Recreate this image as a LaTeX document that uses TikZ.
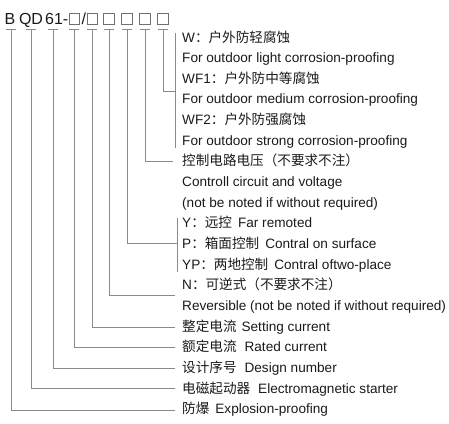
\documentclass[tikz,border=0pt]{standalone}
\usepackage{fontspec}
\setmainfont{Liberation Sans}
\newfontfamily\cjk{Noto Sans CJK SC}
\definecolor{txtc}{HTML}{1A1A1A}
\definecolor{linec}{HTML}{8A8A8A}
\definecolor{boxc}{HTML}{707070}
\begin{document}
\begin{tikzpicture}[x=1pt,y=-1pt,
  txt/.style={anchor=base west, inner sep=0pt, font=\fontsize{13.6}{16}\selectfont, text=txtc},
  head/.style={anchor=base, inner sep=0pt, font=\fontsize{16}{18}\selectfont, text=txtc},
  codebox/.style={draw=boxc, line width=0.7pt, minimum width=10.5pt, minimum height=11.5pt, inner sep=0pt},
  ln/.style={draw=linec, line width=0.8pt},
  tick/.style={draw=linec, line width=0.8pt}]
\useasboundingbox (0,0) rectangle (449,423);

% ---- header code
\node[head] (hB) at (10,24.5) {B};
\node[head] (hQD) at (31,24.5) {QD};
\node[head, anchor=base west] (h61) at (45,24.5) {61-};
\node[codebox] (b1) at (74.5,18.8) {};
\node[head] (hsl) at (83.8,24.5) {/};
\node[codebox] (b2) at (92.3,18.8) {};
\node[codebox] (b3) at (108.8,18.8) {};
\node[codebox] (b4) at (127,18.8) {};
\node[codebox] (b5) at (145,18.8) {};
\node[codebox] (b6) at (163,18.8) {};

% ---- tick coordinates
\foreach \n/\x in {cB/11,cQ/31,c6/53,c1/74,c2/92,c3/109,c4/127,c5/145,c7/163}{
  \coordinate (\n) at (\x,29.5);
  \draw[tick] (\x-5,29.5) -- (\x+5,29.5);
}

% ---- text lines
\node[txt] (t0)  at (182,42)     {W{\cjk ：户外防轻腐蚀}};
\node[txt] (t1)  at (182,62.65)  {For outdoor light corrosion-proofing};
\node[txt] (t2)  at (182,83.3)   {WF1{\cjk ：户外防中等腐蚀}};
\node[txt] (t3)  at (182,103.95) {For outdoor medium corrosion-proofing};
\node[txt] (t4)  at (182,124.6)  {WF2{\cjk ：户外防强腐蚀}};
\node[txt] (t5)  at (182,145.25) {For outdoor strong corrosion-proofing};
\node[txt] (t6)  at (182,165.9)  {{\cjk 控制电路电压（不要求不注）}};
\node[txt] (t7)  at (182,186.55) {Controll circuit and voltage};
\node[txt] (t8)  at (182,207.2)  {(not be noted if without required)};
\node[txt] (t9)  at (182,227.85) {Y{\cjk ：远控}\hspace{6pt}Far remoted};
\node[txt] (t10) at (182,248.5)  {P{\cjk ：箱面控制}\hspace{6pt}Contral on surface};
\node[txt] (t11) at (182,269.15) {YP{\cjk ：两地控制}\hspace{6pt}Contral oftwo-place};
\node[txt] (t12) at (182,289.8)  {N{\cjk ：可逆式（不要求不注）}};
\node[txt] (t13) at (182,310.45) {Reversible (not be noted if without required)};
\node[txt] (t14) at (182,331.1)  {{\cjk 整定电流}\hspace{5pt}Setting current};
\node[txt] (t15) at (182,351.75) {{\cjk 额定电流}\hspace{8pt}Rated current};
\node[txt] (t16) at (182,372.4)  {{\cjk 设计序号}\hspace{8pt}Design number};
\node[txt] (t17) at (182,393.05) {{\cjk 电磁起动器}\hspace{8pt}Electromagnetic starter};
\node[txt] (t18) at (182,413.7)  {{\cjk 防爆}\hspace{6pt}Explosion-proofing};

% ---- brackets
\coordinate (brWt) at (175,33);
\coordinate (brWb) at (175,148);
\draw[ln] (brWt) -- (brWb);
\coordinate (brYt) at (177,218);
\coordinate (brYb) at (177,272);
\draw[ln] (brYt) -- (brYb);

% ---- end points
\coordinate (e7) at (175,91);
\coordinate (e5) at (173,161.5);
\coordinate (e4) at (177,243.5);
\coordinate (e3) at (175,295);
\coordinate (e2) at (175,327);
\coordinate (e1) at (175,347.5);
\coordinate (e6) at (175,368);
\coordinate (eQ) at (175,388.5);
\coordinate (eB) at (175,410);

% ---- connectors
\draw[ln] (c7) |- (e7);
\draw[ln] (c5) |- (e5);
\draw[ln] (c4) |- (e4);
\draw[ln] (c3) |- (e3);
\draw[ln] (c2) |- (e2);
\draw[ln] (c1) |- (e1);
\draw[ln] (c6) |- (e6);
\draw[ln] (cQ) |- (eQ);
\draw[ln] (cB) |- (eB);
\end{tikzpicture}
\end{document}
